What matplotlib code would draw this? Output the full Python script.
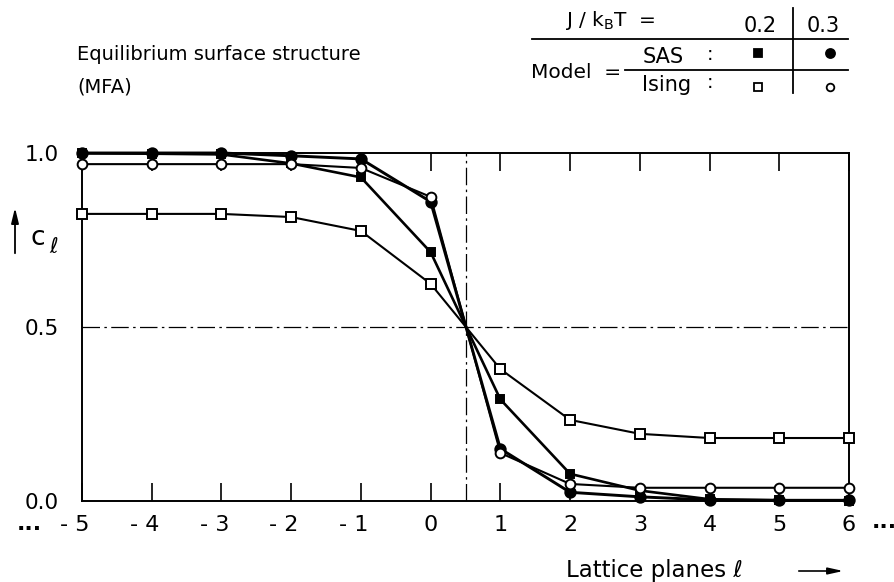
import matplotlib
matplotlib.use("Agg")
import matplotlib.pyplot as plt
from matplotlib.lines import Line2D
from matplotlib.transforms import ScaledTranslation

plt.rcParams['font.family'] = ['DejaVu Sans']

# ---- data ----
planes = [-5, -4, -3, -2, -1, 0, 1, 2, 3, 4, 5, 6]
sas_02 = [0.999, 0.998, 0.996, 0.970, 0.930, 0.715, 0.292, 0.078, 0.030, 0.005, 0.002, 0.001]
sas_03 = [1.000, 1.000, 1.000, 0.992, 0.983, 0.860, 0.150, 0.025, 0.012, 0.003, 0.002, 0.002]
ising_02 = [0.825, 0.825, 0.825, 0.816, 0.776, 0.624, 0.379, 0.233, 0.193, 0.181, 0.181, 0.181]
ising_03 = [0.968, 0.968, 0.968, 0.968, 0.957, 0.874, 0.138, 0.049, 0.038, 0.038, 0.038, 0.038]
xtick_labels = ['- 5', '- 4', '- 3', '- 2', '- 1', '0', '1', '2', '3', '4', '5', '6']
ytick_vals = [0.0, 0.5, 1.0]
ytick_labels = ['0.0', '0.5', '1.0']

W, H = 895, 582
fig = plt.figure(figsize=(W / 100, H / 100), dpi=100)


def F(x, y):
    return (x / W, 1 - y / H)


ax_l, ax_r, ax_t, ax_b = 82, 849, 153, 501
ax = fig.add_axes([ax_l / W, 1 - ax_b / H, (ax_r - ax_l) / W, (ax_b - ax_t) / H])
ax.set_xlim(-5, 6)
ax.set_ylim(0, 1)

dd = (0, (14, 3.5, 2, 3.5))
ax.axhline(0.5, color='black', lw=0.9, linestyle=dd, zorder=1)
ax.axvline(0.5, color='black', lw=0.9, linestyle=dd, zorder=1)

common = dict(color='black', clip_on=False, markeredgecolor='black', markeredgewidth=1.4)
ax.plot(planes, sas_02, marker='s', markersize=6, markerfacecolor='black', lw=1.9, zorder=3, **common)
ax.plot(planes, sas_03, marker='o', markersize=7.5, markerfacecolor='black', lw=2.1, zorder=3.5, **common)
ax.plot(planes, ising_02, marker='s', markersize=6.5, markerfacecolor='white', lw=1.5, zorder=4, **common)
ax.plot(planes, ising_03, marker='o', markersize=7, markerfacecolor='white', lw=1.5, zorder=4, **common)

for s in ax.spines.values():
    s.set_linewidth(1.4)

ax.set_xticks(planes)
ax.set_xticklabels(xtick_labels, fontsize=16)
ax.tick_params(axis='x', which='both', direction='in', length=13, width=1.2, top=True, bottom=True, pad=10)
off = ScaledTranslation(5.5 / 72, 0, fig.dpi_scale_trans)
for lab, txt in zip(ax.get_xticklabels(), xtick_labels):
    if txt.startswith('-'):
        lab.set_horizontalalignment('right')
        lab.set_transform(lab.get_transform() + off)

ax.set_yticks(ytick_vals)
ax.set_yticklabels(ytick_labels, fontsize=15.5)
ax.tick_params(axis='y', length=0, pad=17)

# ellipses on x axis
fig.text(*F(29, 535), '···', fontsize=16, fontweight='bold', ha='center', va='baseline')
fig.text(*F(884, 533), '···', fontsize=16, fontweight='bold', ha='center', va='baseline')

# y axis label with arrow
fig.add_artist(plt.Annotation('', xy=F(15, 205), xytext=F(15, 256), xycoords='figure fraction',
                              textcoords='figure fraction',
                              arrowprops=dict(arrowstyle='-|>,head_length=0.9,head_width=0.22',
                                              color='black', lw=1.3)))
fig.text(*F(31, 238), 'c', fontsize=19, ha='left', va='center')
fig.text(*F(49, 247), 'ℓ', fontsize=15, ha='left', va='center')

# x axis label with arrow
fig.text(*F(566, 571), 'Lattice planes ℓ', fontsize=16.5, ha='left', va='center')
fig.add_artist(plt.Annotation('', xy=F(846, 571), xytext=F(796, 571), xycoords='figure fraction',
                              textcoords='figure fraction',
                              arrowprops=dict(arrowstyle='-|>,head_length=0.9,head_width=0.2',
                                              color='black', lw=1.2)))

# title
fig.text(*F(77, 54), 'Equilibrium surface structure', fontsize=14, ha='left', va='center')
fig.text(*F(77, 87), '(MFA)', fontsize=14, ha='left', va='center')

# legend table
fig.add_artist(Line2D([532 / W, 848 / W], [1 - 39 / H, 1 - 39 / H], transform=fig.transFigure, color='black', lw=1.3))
fig.add_artist(Line2D([625 / W, 848 / W], [1 - 70 / H, 1 - 70 / H], transform=fig.transFigure, color='black', lw=1.3))
fig.add_artist(Line2D([793 / W, 793 / W], [1 - 8 / H, 1 - 93 / H], transform=fig.transFigure, color='black', lw=1.3))

fig.text(*F(565, 21), r'J / k$_\mathregular{B}$T  =', fontsize=14.5, ha='left', va='center')
fig.text(*F(760, 26), '0.2', fontsize=15, ha='center', va='center')
fig.text(*F(823, 26), '0.3', fontsize=15, ha='center', va='center')
fig.text(*F(531, 72), 'Model  =', fontsize=14.5, ha='left', va='center')
fig.text(*F(643, 57), 'SAS', fontsize=15, ha='left', va='center')
fig.text(*F(710, 55), ':', fontsize=14, ha='center', va='center')
fig.text(*F(642, 85), 'Ising', fontsize=15, ha='left', va='center')
fig.text(*F(710, 83), ':', fontsize=14, ha='center', va='center')

legend_marks = [((758, 53), 's', 'black', 6), ((830, 53), 'o', 'black', 6.5),
                ((758, 87), 's', 'white', 5.5), ((830, 87), 'o', 'white', 5.5)]
for (px, py), mk, fc, ms in legend_marks:
    fx, fy = F(px, py)
    fig.add_artist(Line2D([fx], [fy], transform=fig.transFigure, marker=mk, markersize=ms,
                          markerfacecolor=fc, markeredgecolor='black', markeredgewidth=1.3, lw=0))

fig.savefig('out.png', dpi=100)
